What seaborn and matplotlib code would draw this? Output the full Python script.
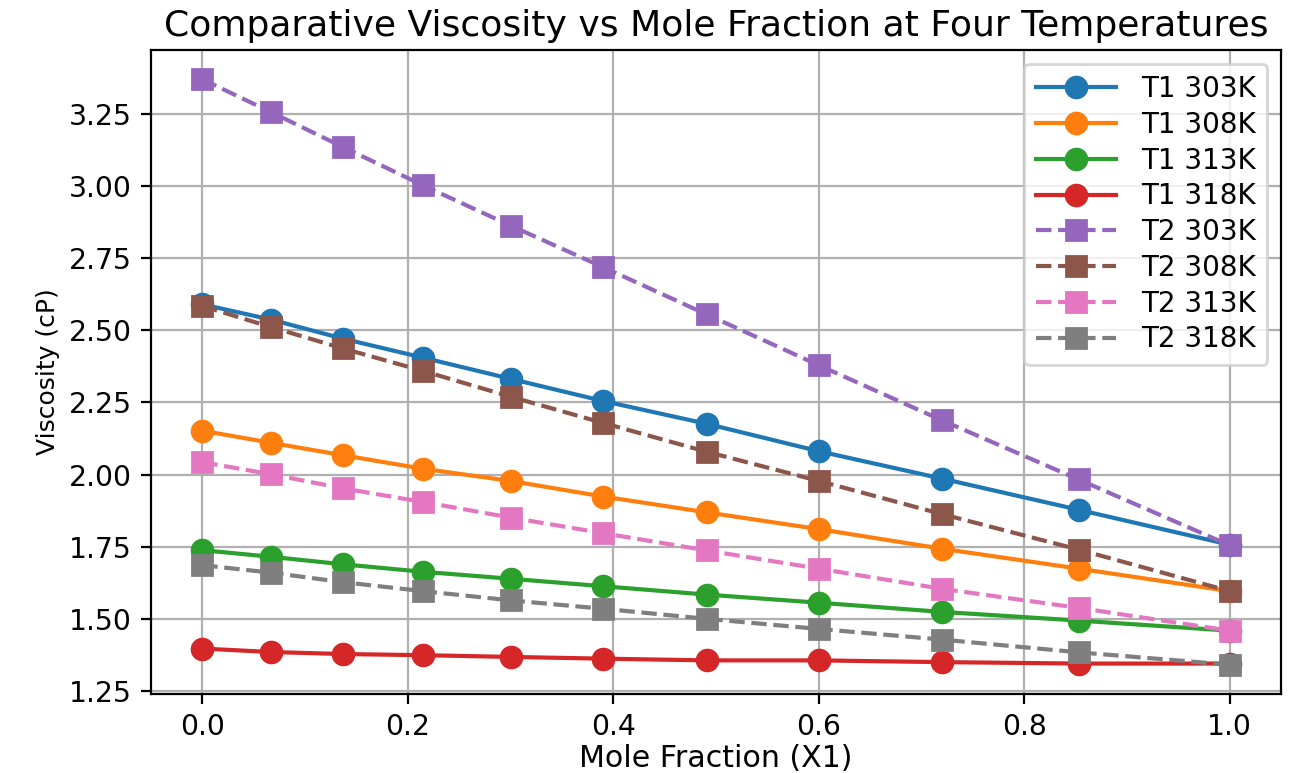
import matplotlib
matplotlib.use("Agg")
import matplotlib.pyplot as plt
import seaborn as sns
import pandas as pd

mole_fraction = [0.0, 0.067, 0.137, 0.215, 0.300, 0.390, 0.491, 0.600, 0.720, 0.853, 1.0]

t1_303 = [2.590, 2.537, 2.471, 2.405, 2.332, 2.255, 2.176, 2.081, 1.986, 1.878, 1.757]
t1_308 = [2.152, 2.110, 2.067, 2.020, 1.978, 1.924, 1.869, 1.811, 1.743, 1.674, 1.596]
t1_313 = [1.738, 1.715, 1.689, 1.663, 1.639, 1.613, 1.584, 1.556, 1.524, 1.494, 1.459]
t1_318 = [1.397, 1.385, 1.378, 1.374, 1.368, 1.362, 1.356, 1.356, 1.350, 1.345, 1.345]
t2_303 = [3.370, 3.256, 3.135, 3.002, 2.863, 2.719, 2.555, 2.379, 2.188, 1.983, 1.755]
t2_308 = [2.584, 2.511, 2.437, 2.359, 2.270, 2.179, 2.079, 1.978, 1.863, 1.740, 1.596]
t2_313 = [2.043, 2.001, 1.952, 1.905, 1.851, 1.797, 1.737, 1.674, 1.604, 1.538, 1.459]
t2_318 = [1.686, 1.660, 1.627, 1.596, 1.564, 1.535, 1.500, 1.465, 1.428, 1.384, 1.341]

series_labels = ["T1 303K", "T1 308K", "T1 313K", "T1 318K",
                 "T2 303K", "T2 308K", "T2 313K", "T2 318K"]
series_values = [t1_303, t1_308, t1_313, t1_318, t2_303, t2_308, t2_313, t2_318]
colors = ["#1f77b4", "#ff7f0e", "#2ca02c", "#d62728",
          "#9467bd", "#8c564b", "#e377c2", "#7f7f7f"]

plt.rcParams['font.family'] = ['DejaVu Sans']

fig, ax = plt.subplots(figsize=(6.49, 3.865), dpi=200)
fig.subplots_adjust(left=0.1163, right=0.9869, top=0.9353, bottom=0.1022)

for label, vals, col in zip(series_labels, series_values, colors):
    df = pd.DataFrame({"x": mole_fraction, "y": vals})
    is_t1 = label.startswith("T1")
    sns.lineplot(data=df, x="x", y="y", ax=ax, label=label, color=col,
                 marker="o" if is_t1 else "s",
                 linestyle="-" if is_t1 else "--",
                 markersize=7.5, markeredgecolor=col, markeredgewidth=1,
                 linewidth=1.5, estimator=None, sort=False)

ax.set_xlim(-0.05, 1.05)
ax.set_ylim(1.2395, 3.4715)
ax.set_yticks([1.25, 1.5, 1.75, 2.0, 2.25, 2.5, 2.75, 3.0, 3.25])
ax.set_xticks([0.0, 0.2, 0.4, 0.6, 0.8, 1.0])
ax.set_yticklabels(["1.25", "1.50", "1.75", "2.00", "2.25", "2.50", "2.75", "3.00", "3.25"])
ax.set_xticklabels(["0.0", "0.2", "0.4", "0.6", "0.8", "1.0"])
ax.tick_params(labelsize=10.2, length=3.5, width=0.8)
ax.grid(True, color="#b0b0b0", linewidth=0.8)
ax.set_axisbelow(True)
for s in ax.spines.values():
    s.set_linewidth(0.8)
    s.set_color("black")

ax.set_xlabel("Mole Fraction (X1)", fontsize=10.8, labelpad=1)
ax.set_ylabel("Viscosity (cP)", fontsize=9, labelpad=3)
ax.set_title("Comparative Viscosity vs Mole Fraction at Four Temperatures",
             fontsize=13, pad=5)

ax.legend(loc="upper right", fontsize=10, labelspacing=0.28, handlelength=2.9,
          borderaxespad=0.5, handletextpad=0.9)

fig.savefig("out.png", dpi=200)
